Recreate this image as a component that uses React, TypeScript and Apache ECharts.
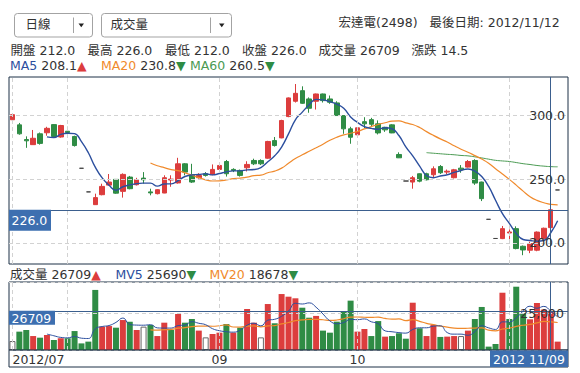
import React, { useEffect, useRef } from 'react';
import * as echarts from 'echarts';

const dates = [
  '2012/07/20', '2012/07/23', '2012/07/24', '2012/07/25', '2012/07/26', '2012/07/27', '2012/07/30', '2012/07/31',
  '2012/08/01', '2012/08/03', '2012/08/06', '2012/08/07', '2012/08/08', '2012/08/09', '2012/08/10', '2012/08/13',
  '2012/08/14', '2012/08/15', '2012/08/16', '2012/08/17', '2012/08/20', '2012/08/21', '2012/08/22', '2012/08/23',
  '2012/08/24', '2012/08/27', '2012/08/28', '2012/08/29', '2012/08/30', '2012/08/31',
  '2012/09/03', '2012/09/04', '2012/09/05', '2012/09/06', '2012/09/07', '2012/09/10', '2012/09/11', '2012/09/12',
  '2012/09/13', '2012/09/14', '2012/09/17', '2012/09/18', '2012/09/19', '2012/09/20', '2012/09/21', '2012/09/24',
  '2012/09/25', '2012/09/26', '2012/09/27', '2012/09/28',
  '2012/10/01', '2012/10/02', '2012/10/03', '2012/10/04', '2012/10/05', '2012/10/08', '2012/10/09', '2012/10/11',
  '2012/10/12', '2012/10/15', '2012/10/16', '2012/10/17', '2012/10/18', '2012/10/19', '2012/10/22', '2012/10/23',
  '2012/10/24', '2012/10/25', '2012/10/26', '2012/10/29', '2012/10/30', '2012/10/31',
  '2012/11/01', '2012/11/02', '2012/11/05', '2012/11/06', '2012/11/07', '2012/11/08', '2012/11/09', '2012/11/12',
];

const opens = [
  296.5, 292.5, 281, 277, 285.5, 286.3, 292.7, 283, 287.5, 283.4,
  258.5, 240, 230, 237.8, 245.3, 249.8, 240.4, 251.6, 245.6, 250.8,
  240, 238.6, 239.1, 249.3, 247, 262, 253.4, 251.1, 254.2, 253.7,
  257.6, 263.8, 257.6, 256.8, 258.9, 264.6, 264.6, 266.4, 280.2, 282.3,
  299, 311, 319.3, 312.8, 311, 316.7, 312.8, 309.7, 299.8, 289.4,
  284.7, 295, 296.6, 293.3, 290.6, 292.5, 269.3, 248.5, 247.7, 254.2,
  254.2, 253.4, 259.9, 255.5, 251.1, 258.6, 259.4, 264.6, 247.7, 218.5,
  203.5, 203.4, 207.8, 211.2, 197.4, 194.3, 194.3, 203.4, 212, 241.5,
];
const closes = [
  300.5, 285.5, 280, 282, 278, 289.8, 283.4, 292, 286.5, 276.3,
  258.5, 240, 235.5, 244.3, 247.7, 239, 253.7, 242.5, 249.5, 249.5,
  239.2, 241.7, 251.1, 250, 262, 255.5, 247.7, 252.9, 252.9, 257.6,
  260.7, 254.2, 256.8, 252.9, 261.5, 262, 262, 279.5, 276.3, 295.9,
  313.6, 317.2, 309.4, 305.5, 316.7, 311.5, 310.2, 299.8, 289.4, 282.8,
  290.2, 293.3, 293, 286.2, 288.6, 286.2, 266.7, 248.5, 251.1, 248.4,
  249.5, 258.1, 255, 256.2, 257.3, 257.3, 263.8, 246.9, 234.7, 218.5,
  203.5, 211.2, 208.6, 195.6, 194.5, 199.5, 208.5, 211.5, 226, 241.5,
];
const lows = [
  296, 284.8, 274.5, 277, 277, 284, 283, 282.5, 286, 275.5,
  258.5, 240, 230, 237.3, 245, 238.5, 235.5, 242, 245, 246.5,
  237.3, 238, 239, 244, 246.5, 253, 247, 250.4, 252, 253,
  257, 252, 255.5, 252, 256, 261, 261, 266, 275.5, 282,
  298.5, 310, 309, 302, 304.5, 310, 309, 299.5, 285.5, 277.7,
  284.5, 290, 291, 285, 287, 286, 266.5, 248.5, 242.5, 247.5,
  249, 251.5, 254, 254, 250.5, 255, 259, 245.5, 232.8, 218.5,
  203.5, 203, 201.7, 195, 190.4, 192, 193.5, 203, 212, 241.5,
];
const highs = [
  301.5, 294, 283.5, 288.5, 286.5, 291, 293, 292.5, 291, 284,
  258.5, 240, 238.6, 246.4, 254, 250, 254.5, 252.5, 251, 255.5,
  242.5, 242, 253, 253, 266.7, 262.5, 262, 254.6, 255.5, 261.5,
  263, 265, 258.5, 257.5, 264, 266, 265.5, 280, 283, 296.5,
  314, 324.5, 322.7, 314, 317, 317, 315.5, 311, 300, 291,
  290.5, 298.5, 298, 296, 291, 293, 271, 248.5, 252.5, 254.5,
  255, 260, 261, 257.5, 258, 261, 265, 265.6, 248, 218.5,
  203.5, 213.3, 210.6, 213, 198, 201, 209, 212, 226, 241.5,
];
const volumes = [
  6100, 12500, 13600, 9500, 8400, 10200, 6800, 8000, 8000, 12900,
  4500, 5700, 40900, 15900, 16300, 15200, 20400, 19300, 13600, 15900,
  17000, 9500, 18600, 13600, 24500, 18600, 21100, 13200, 8600, 10900,
  11800, 17700, 11800, 15200, 27900, 18600, 8600, 31300, 18200, 38100,
  36300, 35200, 28800, 22000, 23200, 13200, 11800, 19300, 26100, 33600,
  12500, 14300, 9500, 19700, 9100, 9500, 11400, 7700, 32200, 14800,
  9500, 17000, 8900, 9100, 9500, 9500, 13200, 21100, 29300, 2300,
  4100, 39000, 21100, 43100, 25000, 20900, 32000, 27500, 26709, 5700,
];

const monthStartIdx = [0, 8, 30, 50, 72];
const xLabelIdx = [0, 30, 50];
const xLabelText = ['2012/07', '09', '10'];
const priceTicks = [200, 250, 300];
const cursorIdx = 78;
const cursorDateLabel = '2012 11/09';
const quoteItems = ['開盤 212.0', '最高 226.0', '最低 212.0', '收盤 226.0', '成交量 26709', '漲跌 14.5'];
const maItems = [
  ['MA5', '208.1', '▲'],
  ['MA20', '230.8', '▼'],
  ['MA60', '260.5', '▼'],
];
const mvItems = [
  ['成交量', '26709', '▲'],
  ['MV5', '25690', '▼'],
  ['MV20', '18678', '▼'],
];

const FONT = '"DejaVu Sans", "Noto Sans CJK TC", sans-serif';
const FS = 12.5;
const TEXT = '#333333';
const RED = '#dc3d3d';
const GREEN = '#2f8c45';
const BLUE = '#2c4f9e';
const ORANGE = '#f08a2c';
const MA60C = '#4a9a52';
const FRAME = '#1d3047';
const CURSOR = '#3b5f8e';
const LABELBG = '#3d6fb0';
const GRIDC = '#d2d2d2';

const GL = 9;
const GW = 559;
const MAIN_TOP = 77;
const MAIN_H = 187;
const VOL_TOP = 282;
const VOL_H = 68;

function movingAvg(arr: number[], n: number) {
  return arr.map((_, i) => {
    if (i < n) return '-';
    let s = 0;
    for (let k = i - n + 1; k <= i; k++) s += arr[k];
    return +(s / n).toFixed(2);
  });
}

export default function App() {
  const ref = useRef<HTMLDivElement>(null);
  useEffect(() => {
    if (!ref.current) return;
    const chart = echarts.init(ref.current, undefined, { renderer: 'svg' });
    const cats = [...dates, ''];
    const candleData = dates.map((_, i) => [opens[i], closes[i], lows[i], highs[i]]);
    const volData = volumes.map((v, i) => {
      const flat = i === 0 || closes[i] === closes[i - 1];
      if (flat) return { value: v, itemStyle: { color: '#ffffff', borderColor: '#666', borderWidth: 1 } };
      return { value: v, itemStyle: { color: closes[i] > closes[i - 1] ? RED : GREEN } };
    });
    const ma5 = movingAvg(closes, 5);
    const ma20 = movingAvg(closes, 20);
    const ma60 = movingAvg(closes, 60);
    const mv5 = movingAvg(volumes, 5);
    const mv20 = movingAvg(volumes, 20);
    const empty = dates.map(() => '-');
    const gridLine = { color: GRIDC, type: [4, 3], width: 1 };

    const option: any = {
      animation: false,
      backgroundColor: '#ffffff',
      textStyle: { fontFamily: FONT },
      grid: [
        { left: GL, top: MAIN_TOP, width: GW, height: MAIN_H, show: true, borderColor: FRAME, borderWidth: 1, backgroundColor: '#fff' },
        { left: GL, top: VOL_TOP, width: GW, height: VOL_H, show: true, borderColor: FRAME, borderWidth: 1, backgroundColor: '#fff' },
      ],
      xAxis: [
        {
          type: 'category', gridIndex: 0, data: cats, boundaryGap: true,
          axisLine: { show: false }, axisTick: { show: false }, axisLabel: { show: false }, splitLine: { show: false },
        },
        {
          type: 'category', gridIndex: 1, data: cats, boundaryGap: true,
          axisLine: { show: false }, axisTick: { show: false }, splitLine: { show: false },
          axisLabel: {
            show: true, interval: 0, margin: 3, color: TEXT, fontSize: FS, fontFamily: FONT,
            alignMinLabel: 'left',
            formatter: (_v: string, idx: number) => {
              const k = xLabelIdx.indexOf(idx);
              return k >= 0 ? xLabelText[k] : '';
            },
          },
        },
      ],
      yAxis: [
        {
          type: 'value', gridIndex: 0, position: 'right', min: 183.5, max: 330, z: 5,
          splitLine: { show: false }, axisLine: { show: false }, axisTick: { show: false },
          axisLabel: {
            inside: true, margin: 3, color: TEXT, fontSize: FS, fontFamily: FONT,
            customValues: priceTicks, formatter: (v: number) => v.toFixed(1),
          },
        },
        {
          type: 'value', gridIndex: 1, position: 'right', min: 0, max: 46300, interval: 25000, z: 5,
          splitLine: { show: true, lineStyle: gridLine }, axisLine: { show: false }, axisTick: { show: false },
          axisLabel: {
            inside: true, margin: 4, color: TEXT, fontSize: FS, fontFamily: FONT,
            showMinLabel: false, showMaxLabel: false,
          },
        },
      ],
      series: [
        {
          type: 'line', xAxisIndex: 0, yAxisIndex: 0, data: empty, silent: true, z: 1, symbol: 'none',
          markLine: {
            silent: true, symbol: ['none', 'none'], label: { show: false }, lineStyle: gridLine, animation: false,
            data: [
              ...priceTicks.map((v) => ({ yAxis: v })),
              ...monthStartIdx.map((i) => ({ xAxis: dates[i] })),
            ],
          },
        },
        {
          type: 'line', xAxisIndex: 1, yAxisIndex: 1, data: empty, silent: true, z: 1, symbol: 'none',
          markLine: {
            silent: true, symbol: ['none', 'none'], label: { show: false }, lineStyle: gridLine, animation: false,
            data: monthStartIdx.map((i) => ({ xAxis: dates[i] })),
          },
        },
        {
          type: 'candlestick', xAxisIndex: 0, yAxisIndex: 0, data: candleData, barWidth: 5, z: 2,
          itemStyle: {
            color: RED, color0: GREEN, borderColor: RED, borderColor0: GREEN, borderColorDoji: '#444', borderWidth: 1,
          },
        },
        { type: 'line', xAxisIndex: 0, yAxisIndex: 0, data: ma60, symbol: 'none', smooth: true, z: 3, lineStyle: { color: MA60C, width: 1 } },
        { type: 'line', xAxisIndex: 0, yAxisIndex: 0, data: ma20, symbol: 'none', smooth: true, z: 3, lineStyle: { color: ORANGE, width: 1.2 } },
        { type: 'line', xAxisIndex: 0, yAxisIndex: 0, data: ma5, symbol: 'none', smooth: true, z: 3, lineStyle: { color: BLUE, width: 1.4 } },
        { type: 'bar', xAxisIndex: 1, yAxisIndex: 1, data: volData, barWidth: 6, z: 2 },
        { type: 'line', xAxisIndex: 1, yAxisIndex: 1, data: mv20, symbol: 'none', smooth: true, z: 3, lineStyle: { color: ORANGE, width: 1.2 } },
        { type: 'line', xAxisIndex: 1, yAxisIndex: 1, data: mv5, symbol: 'none', smooth: true, z: 3, lineStyle: { color: BLUE, width: 1 } },
        {
          type: 'line', xAxisIndex: 0, yAxisIndex: 0, data: empty, silent: true, z: 6, symbol: 'none',
          markLine: {
            silent: true, symbol: ['none', 'none'], label: { show: false }, animation: false,
            lineStyle: { color: CURSOR, type: 'solid', width: 1 },
            data: [{ yAxis: closes[cursorIdx] }, { xAxis: dates[cursorIdx] }],
          },
        },
        {
          type: 'line', xAxisIndex: 1, yAxisIndex: 1, data: empty, silent: true, z: 6, symbol: 'none',
          markLine: {
            silent: true, symbol: ['none', 'none'], label: { show: false }, animation: false,
            lineStyle: { color: CURSOR, type: 'solid', width: 1 },
            data: [{ yAxis: volumes[cursorIdx] }, { xAxis: dates[cursorIdx] }],
          },
        },
      ],
    };
    chart.setOption(option);

    const [cx, cy] = chart.convertToPixel({ xAxisIndex: 0, yAxisIndex: 0 }, [dates[cursorIdx], closes[cursorIdx]]) as number[];
    const vy = (chart.convertToPixel({ xAxisIndex: 1, yAxisIndex: 1 }, [dates[cursorIdx], volumes[cursorIdx]]) as number[])[1];
    const gridRight = GL + GW;
    const volBottom = VOL_TOP + VOL_H;
    const dateW = 78;
    const dateX = Math.min(cx - dateW / 2, gridRight - dateW);

    const txt = (text: string, x: number, y: number, extra: any = {}, z = 30) => ({
      type: 'text', z,
      style: { text, x, y, fill: TEXT, fontSize: FS, fontFamily: FONT, verticalAlign: 'middle', align: 'left', ...extra },
    });
    const richItem = (item: string[], x: number, y: number, nameColor: string, arrowColor: string) => ({
      type: 'text', z: 30,
      style: {
        text: `{n|${item[0]}} {v|${item[1]}}{a|${item[2]}}`, x, y, fill: TEXT, fontSize: FS, fontFamily: FONT,
        verticalAlign: 'middle', align: 'left',
        rich: {
          n: { fill: nameColor, fontSize: FS, fontFamily: FONT },
          v: { fill: TEXT, fontSize: FS, fontFamily: FONT },
          a: { fill: arrowColor, fontSize: FS, fontFamily: FONT },
        },
      },
    });

    const quoteX = [10.5, 87.5, 165, 242, 318.5, 411.5];
    const maX = [10, 101, 190];
    const mvX = [10, 115.5, 209.5];
    const maColors = [BLUE, ORANGE, MA60C];
    const maArrows = [RED, GREEN, GREEN];
    const mvColors = [TEXT, BLUE, ORANGE];
    const mvArrows = [RED, GREEN, GREEN];

    const graphics: any[] = [
      // dropdown 1
      { type: 'rect', z: 20, shape: { x: 14.5, y: 13.5, width: 78, height: 23.5, r: 3 }, style: { fill: '#fff', stroke: '#a3a3a3', lineWidth: 1 } },
      { type: 'line', z: 21, shape: { x1: 73.5, y1: 17.5, x2: 73.5, y2: 33 }, style: { stroke: '#a3a3a3', lineWidth: 1 } },
      { type: 'polygon', z: 21, shape: { points: [[78.5, 23.5], [84, 23.5], [81.25, 27.3]] }, style: { fill: '#222' } },
      txt('日線', 25.5, 24.5),
      // dropdown 2
      { type: 'rect', z: 20, shape: { x: 101.5, y: 13.5, width: 130, height: 23.5, r: 3 }, style: { fill: '#fff', stroke: '#a3a3a3', lineWidth: 1 } },
      { type: 'line', z: 21, shape: { x1: 210.5, y1: 17.5, x2: 210.5, y2: 33 }, style: { stroke: '#a3a3a3', lineWidth: 1 } },
      { type: 'polygon', z: 21, shape: { points: [[219, 23.5], [224.5, 23.5], [221.75, 27.3]] }, style: { fill: '#222' } },
      txt('成交量', 110.5, 24.5),
      // title
      txt('宏達電(2498)', 338.5, 22.5),
      txt('最後日期: 2012/11/12', 429.5, 22.5),
      ...quoteItems.map((q, i) => txt(q, quoteX[i], 50)),
      ...maItems.map((m, i) => richItem(m, maX[i], 65, maColors[i], maArrows[i])),
      ...mvItems.map((m, i) => richItem(m, mvX[i], 274.5, mvColors[i], mvArrows[i])),
      // x label band frame
      { type: 'rect', z: 19, shape: { x: GL, y: volBottom, width: GW, height: 17 }, style: { fill: 'none', stroke: FRAME, lineWidth: 1 } },
      // cursor labels
      { type: 'rect', z: 25, shape: { x: GL, y: cy, width: 42, height: 21 }, style: { fill: LABELBG } },
      txt(closes[cursorIdx].toFixed(1), 11.5, cy + 10.5, { fill: '#fff' }, 40),
      { type: 'rect', z: 25, shape: { x: GL, y: vy, width: 46, height: 14 }, style: { fill: LABELBG } },
      txt(String(volumes[cursorIdx]), 11.5, vy + 7.5, { fill: '#fff' }, 40),
      { type: 'rect', z: 25, shape: { x: dateX, y: volBottom + 0.5, width: dateW, height: 16.5 }, style: { fill: LABELBG } },
      txt(cursorDateLabel, dateX + dateW / 2, volBottom + 9, { fill: '#fff', align: 'center' }, 40),
    ];
    chart.setOption({ graphic: graphics });

    return () => chart.dispose();
  }, []);

  return <div ref={ref} style={{ position: 'fixed', left: 0, top: 0, width: 580, height: 373 }} />;
}
